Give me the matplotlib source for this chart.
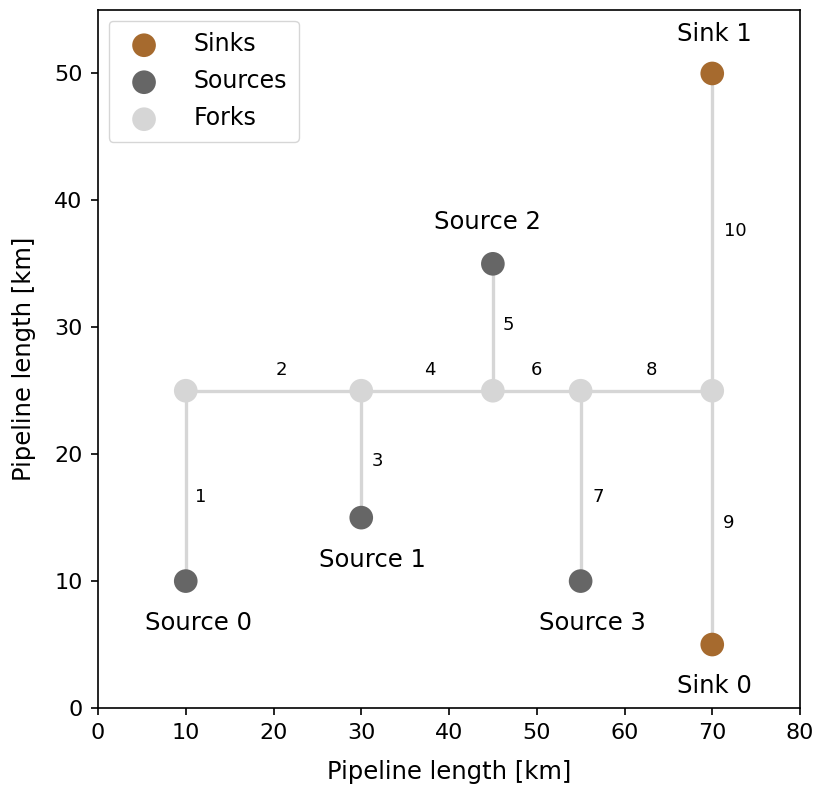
import matplotlib
matplotlib.use("Agg")
import matplotlib.pyplot as plt

# Nodes
node_names = ["Source 0", "Source 1", "Source 2", "Source 3", "Sink 0", "Sink 1",
              "Fork 0", "Fork 1", "Fork 2", "Fork 3", "Fork 4"]
node_x = [10, 30, 45, 55, 70, 70, 10, 30, 45, 55, 70]
node_y = [10, 15, 35, 10, 5, 50, 25, 25, 25, 25, 25]
node_type = ["source", "source", "source", "source", "sink", "sink",
             "fork", "fork", "fork", "fork", "fork"]

# Label offsets (x, y) for node name labels
label_dx = [1.4, 1.3, -0.6, 1.4, 0.2, 0.2]
label_dy = [-3.3, -3.3, 3.3, -3.3, -3.3, 3.1]

# Edges (from node index, to node index, label)
edge_from = [0, 6, 1, 7, 2, 8, 3, 9, 4, 10]
edge_to = [6, 7, 7, 8, 8, 9, 9, 10, 10, 5]
edge_labels = ["1", "2", "3", "4", "5", "6", "7", "8", "9", "10"]
edge_label_dx = [1.7, 0.9, 1.8, 0.3, 1.8, 0.0, 2.0, 0.6, 1.9, 2.6]
edge_label_dy = [-0.9, 1.6, -0.5, 1.6, 0.2, 1.6, -0.9, 1.6, -0.4, 0.1]

colors = {"sink": "#a66a2e", "source": "#666666", "fork": "#d6d6d6"}
legend_names = {"sink": "Sinks", "source": "Sources", "fork": "Forks"}

fig = plt.figure(figsize=(8.19, 7.88), dpi=100)
ax = fig.add_axes([98/819, 80/788, 702/819, 698/788])

for a, b, lab, dx, dy in zip(edge_from, edge_to, edge_labels, edge_label_dx, edge_label_dy):
    ax.plot([node_x[a], node_x[b]], [node_y[a], node_y[b]], color="#d6d6d6",
            lw=2.4, zorder=1)
    mx = (node_x[a] + node_x[b]) / 2
    my = (node_y[a] + node_y[b]) / 2
    ax.text(mx + dx, my + dy, lab, fontsize=13, ha="center", va="center")

for t in ["sink", "source", "fork"]:
    xs = [x for x, tt in zip(node_x, node_type) if tt == t]
    ys = [y for y, tt in zip(node_y, node_type) if tt == t]
    ax.scatter(xs, ys, s=290, color=colors[t], label=legend_names[t], zorder=3,
               edgecolors="none")

for i in range(6):
    ax.text(node_x[i] + label_dx[i], node_y[i] + label_dy[i], node_names[i],
            fontsize=17.5, ha="center", va="center")

ax.set_xlim(0, 80)
ax.set_ylim(0, 55)
ax.set_xticks(range(0, 81, 10))
ax.set_yticks(range(0, 51, 10))
ax.tick_params(labelsize=16, length=5, width=1.2, pad=6)
for sp in ax.spines.values():
    sp.set_linewidth(1.2)
ax.set_xlabel("Pipeline length [km]", fontsize=17.5, labelpad=12)
ax.set_ylabel("Pipeline length [km]", fontsize=17.5, labelpad=13)
ax.legend(loc="upper left", fontsize=17, handletextpad=1.1, borderpad=0.5,
          labelspacing=0.55, scatterpoints=1, borderaxespad=0.45)

fig.savefig("out.png", dpi=100)
